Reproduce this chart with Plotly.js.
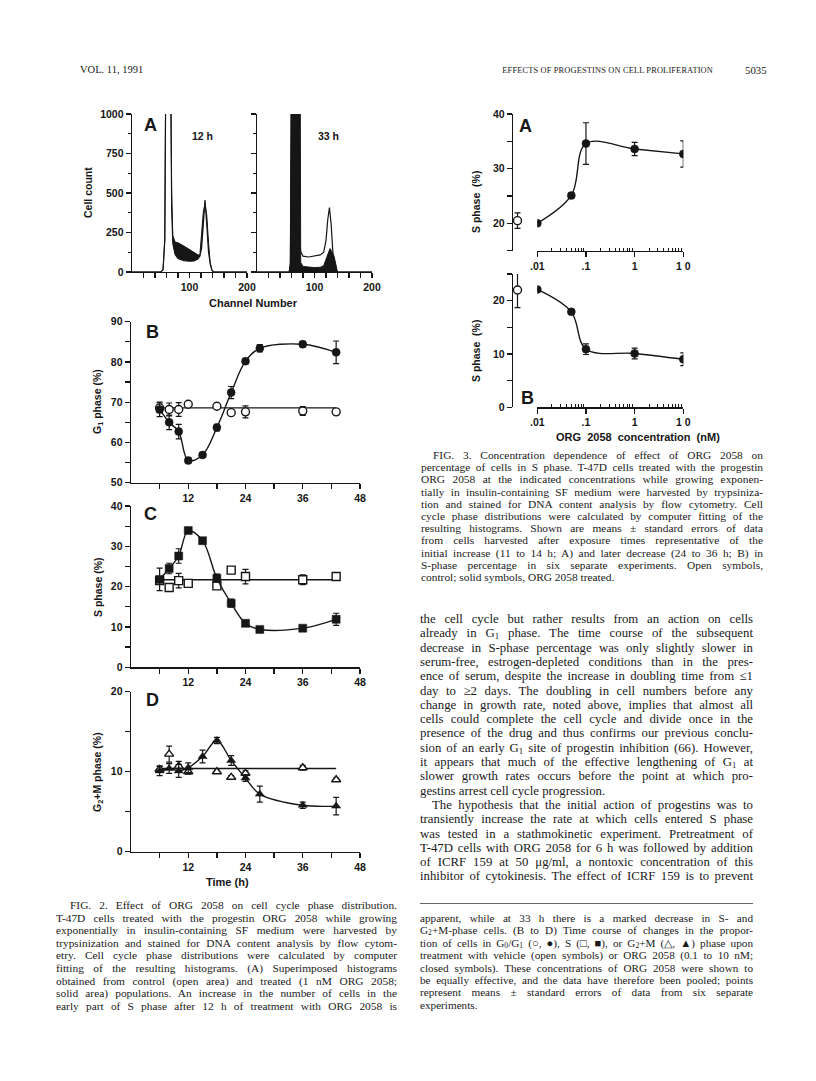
<!DOCTYPE html>
<html><head><meta charset="utf-8">
<script src="https://cdn.plot.ly/plotly-3.0.1.min.js"></script>
<style>
body{margin:0;background:#fff;}
#page{position:relative;width:816px;height:1081px;overflow:hidden;background:#fff;}
#plot{position:absolute;left:0;top:0;width:816px;height:1081px;}
.t{position:absolute;white-space:nowrap;font-family:"Liberation Serif","Times New Roman",serif;color:#1a1a1a;line-height:1;}
.t sub{font-size:68%;vertical-align:-0.18em;line-height:0;}
</style></head>
<body><div id="page"><div id="plot"></div></div>
<script>
// ---------------- DATA ----------------
// Fig 2A histograms (channel, cell count)
const chan12Ctrl = [0,50,54,57,59,67,69,71,75,80,90,100,108,114,118,121,124,127,130,133,136,139,142,200];
const cnt12Ctrl  = [0,0,15,200,1400,1400,400,180,110,85,72,68,70,80,100,150,300,455,300,130,50,10,0,0];
const chan12Trt  = [0,50,54,57,59,67,69,71,75,80,90,100,108,114,118,121,124,127,130,133,136,139,142,200];
const cnt12Trt   = [0,0,15,200,1400,1400,500,230,190,185,165,140,125,110,105,220,380,430,360,190,60,15,0,0];
const chan33Ctrl = [0,56,58,60,70,73,76,80,90,100,110,116,120,123,126,129,132,135,138,200];
const cnt33Ctrl  = [0,0,40,1400,1400,200,130,100,95,100,108,125,200,330,408,300,120,30,0,0];
const chan33Trt  = [0,56,58,60,75,76,80,90,100,110,116,120,124,127,130,134,137,140,200];
const cnt33Trt   = [0,0,60,1400,1400,60,35,30,28,30,40,80,120,148,130,100,50,0,0];

// Fig 2B-D time courses
const timesTrt = [6,8,10,12,15,18,21,24,27,36,43];
const timesCtl = [6,8,10,12,18,21,24,36,43];
const g1Trt    = [68.2,65.0,62.7,55.5,56.9,63.7,72.4,80.2,83.4,84.4,82.4];
const g1TrtErr = [1.8,1.8,1.8,0.6,0.5,0.8,1.5,0.6,0.9,0.7,2.8];
const g1Ctl    = [68.6,68.2,68.2,69.5,69.0,67.4,67.6,67.8,67.6];
const g1CtlErr = [1.2,1.6,1.7,0.4,0.4,0.4,1.5,1.1,0.4];
const g1CtlLevel = 68.6;
const sTrt     = [21.8,24.5,27.6,33.9,31.4,22.1,15.9,10.9,9.4,9.7,11.9];
const sTrtErr  = [2.8,1.3,1.8,0.5,0.6,1.0,1.0,0.5,0.4,0.4,1.5];
const sCtl     = [21.5,19.8,21.5,20.8,20.2,24.1,22.5,21.7,22.5];
const sCtlErr  = [0.5,0.4,1.8,0.4,0.4,0.6,1.8,1.2,0.4];
const sCtlLevel = 21.7;
const g2mTrt    = [10.1,10.4,10.1,10.5,11.9,13.9,11.4,9.2,7.2,5.8,5.7];
const g2mTrtErr = [0.6,0.6,0.8,0.6,0.8,0.4,0.6,0.4,1.0,0.4,1.1];
const g2mCtl    = [10.3,12.2,10.7,10.0,10.0,9.3,9.8,10.5,9.0];
const g2mCtlErr = [0.4,1.0,0.6,0.3,0.2,0.2,0.3,0.3,0.2];
const g2mCtlLevel = 10.4;

// Fig 3 concentration dependence (nM)
const conc     = [0.01,0.05,0.1,1,10];
const sA       = [20.0,25.1,34.6,33.6,32.7];
const sAErr    = [0.3,0.5,3.8,1.2,2.4];
const sACtl    = 20.5, sACtlErr = 1.4;
const sB       = [22.1,17.9,10.9,10.1,9.0];
const sBErr    = [0.3,0.4,1.0,1.0,1.2];
const sBCtl    = 22.0, sBCtlErr = 3.3;

// Tick labels
const histXTicks = [20,40,60,80,100,120,140,160,180,200];
const histXText  = ['','','','','100','','','','','200'];
const timeTicks  = [6,12,18,24,30,36,42,48];
const timeText   = ['','12','','24','','36','','48'];
const concTicks  = [0.01,0.1,1,10];
const concText   = ['.01','.1','1','1 0'];

// ---------------- LAYOUT HELPERS ----------------
const W=816,H=1081;
const px=x=>x/W, py=y=>1-y/H;
const xdom=(a,b)=>[px(a),px(b)];
const ydom=(top,bot)=>[py(bot),py(top)];
const INK='#161616';
const tickFont={family:'Liberation Sans, Arial, sans-serif',size:10.5,color:INK,weight:'bold'};
function ax(extra){return Object.assign({showline:true,linecolor:INK,linewidth:1.4,ticks:'outside',
  tickcolor:INK,tickwidth:1.3,ticklen:5,showgrid:false,zeroline:false,tickfont:tickFont,fixedrange:true,
  tickmode:'array'},extra);}
function yt(vals,labelEvery){return {tickvals:vals,ticktext:vals.map(v=>(v%labelEvery===0)?String(v):'')};}
const minorLog=[2,3,4,5,6,7,8,9].flatMap(m=>[m*0.01,m*0.1,m*1]);

const traces=[];
function errBar(arr){return {type:'data',array:arr,color:INK,thickness:1.2,width:3};}
function ctrlLine(xa,ya,times,level){
  const t0=Math.min(...times),t1=Math.max(...times);
  traces.push({x:[t0,t1],y:[level,level],mode:'lines',line:{color:INK,width:1.4},xaxis:xa,yaxis:ya,hoverinfo:'skip'});
}
function pts(xa,ya,x,y,err,sym,filled){
  traces.push({x:x,y:y,mode:'markers',xaxis:xa,yaxis:ya,error_y:errBar(err),
    marker:{symbol:sym,size:8,color:filled?INK:'#fff',line:{color:INK,width:filled?0.5:1.4}}});
}
function fit(xa,ya,x,y){
  traces.push({x:x,y:y,mode:'lines',line:{color:INK,width:1.4,shape:'spline',smoothing:1},xaxis:xa,yaxis:ya,hoverinfo:'skip'});
}

// Histograms
traces.push({x:chan12Ctrl,y:cnt12Ctrl,mode:'lines',line:{color:INK,width:1.2},xaxis:'x',yaxis:'y'});
traces.push({x:chan12Trt,y:cnt12Trt,mode:'lines',line:{color:INK,width:1},fill:'tonexty',fillcolor:INK,xaxis:'x',yaxis:'y'});
traces.push({x:chan33Trt,y:cnt33Trt,mode:'lines',line:{color:INK,width:1},fill:'tozeroy',fillcolor:INK,xaxis:'x2',yaxis:'y2'});
traces.push({x:chan33Ctrl,y:cnt33Ctrl,mode:'lines',line:{color:INK,width:1.2},xaxis:'x2',yaxis:'y2'});

// B
ctrlLine('x3','y3',timesCtl,g1CtlLevel);
pts('x3','y3',timesCtl,g1Ctl,g1CtlErr,'circle',false);
fit('x3','y3',timesTrt,g1Trt);
pts('x3','y3',timesTrt,g1Trt,g1TrtErr,'circle',true);
// C
ctrlLine('x4','y4',timesCtl,sCtlLevel);
pts('x4','y4',timesCtl,sCtl,sCtlErr,'square',false);
fit('x4','y4',timesTrt,sTrt);
pts('x4','y4',timesTrt,sTrt,sTrtErr,'square',true);
// D
ctrlLine('x5','y5',timesCtl,g2mCtlLevel);
pts('x5','y5',timesCtl,g2mCtl,g2mCtlErr,'triangle-up',false);
fit('x5','y5',timesTrt,g2mTrt);
pts('x5','y5',timesTrt,g2mTrt,g2mTrtErr,'triangle-up',true);
// Fig 3A
fit('x6','y6',conc,sA);
pts('x6','y6',conc,sA,sAErr,'circle',true);
pts('x7','y6',[0.5],[sACtl],[sACtlErr],'circle',false);
// Fig 3B
fit('x8','y8',conc,sB);
pts('x8','y8',conc,sB,sBErr,'circle',true);
pts('x9','y8',[0.5],[sBCtl],[sBCtlErr],'circle',false);

const histY={range:[0,1000],tickvals:[0,250,500,750,1000],ticktext:['0','250','500','750','1000'],
  minor:{tickmode:'array',tickvals:[125,375,625,875],ticks:'outside',ticklen:3,tickcolor:INK,tickwidth:1.2}};
const timeX={range:[0,48],tickvals:timeTicks,ticktext:timeText};
const concX={type:'log',range:[-2,1],tickvals:concTicks,ticktext:concText,
  minor:{tickmode:'array',tickvals:minorLog,ticks:'inside',ticklen:3,tickcolor:INK,tickwidth:1}};

const layout={width:W,height:H,margin:{l:0,r:0,t:0,b:0},paper_bgcolor:'rgba(0,0,0,0)',plot_bgcolor:'rgba(0,0,0,0)',
  showlegend:false,
  xaxis: ax(Object.assign({domain:xdom(132,247),anchor:'y',range:[0,200],tickvals:histXTicks,ticktext:histXText})),
  yaxis: ax(Object.assign({domain:ydom(114,272),anchor:'x'},histY)),
  xaxis2:ax({domain:xdom(257,372),anchor:'y2',range:[0,200],tickvals:histXTicks,ticktext:histXText}),
  yaxis2:ax(Object.assign({domain:ydom(114,272),anchor:'x2'},histY,{showticklabels:false})),
  xaxis3:ax(Object.assign({domain:xdom(131,360),anchor:'y3'},timeX)),
  yaxis3:ax(Object.assign({domain:ydom(321.7,482.7),anchor:'x3',range:[50,90]},yt([50,55,60,65,70,75,80,85,90],10))),
  xaxis4:ax(Object.assign({domain:xdom(131,360),anchor:'y4'},timeX)),
  yaxis4:ax(Object.assign({domain:ydom(506,667.3),anchor:'x4',range:[0,40]},yt([0,5,10,15,20,25,30,35,40],10))),
  xaxis5:ax(Object.assign({domain:xdom(131,360),anchor:'y5'},timeX)),
  yaxis5:ax(Object.assign({domain:ydom(691.7,851.7),anchor:'x5',range:[0,20]},yt([0,5,10,15,20],10))),
  xaxis6:ax(Object.assign({domain:xdom(537.3,683.3),anchor:'y6'},concX)),
  yaxis6:ax(Object.assign({domain:ydom(114,250.7),anchor:'free',position:px(511.7),range:[15,40]},yt([15,20,25,30,35,40],10))),
  xaxis7:{domain:xdom(505,530),anchor:'y6',range:[0,1],visible:false,fixedrange:true},
  xaxis8:ax(Object.assign({domain:xdom(537.3,683.3),anchor:'y8'},concX)),
  yaxis8:ax(Object.assign({domain:ydom(274,407.3),anchor:'free',position:px(511.7),range:[0,25]},yt([0,5,10,15,20,25],10))),
  xaxis9:{domain:xdom(505,530),anchor:'y8',range:[0,1],visible:false,fixedrange:true},
  annotations:[]
};
const AF='Liberation Sans, Arial, sans-serif';
function ann(text,x,y,size,angle){layout.annotations.push({text:'<b>'+text+'</b>',xref:'paper',yref:'paper',x:px(x),y:py(y),
  xanchor:'center',yanchor:'middle',showarrow:false,textangle:angle||0,font:{family:AF,size:size,color:INK}});}
ann('A',150,125,18); ann('12 h',202,136,10.5); ann('33 h',328,136,10.5);
ann('Cell count',88,193,10.5,-90); ann('Channel Number',253,303,11);
ann('B',152,332,18); ann('G<sub>1</sub> phase (%)',98,402,10.5,-90);
ann('C',150,514,18); ann('S phase (%)',98,587,10.5,-90);
ann('D',152,700,18); ann('G<sub>2</sub>+M phase (%)',98,772,10.5,-90);
ann('Time (h)',227,882,11);
ann('A',525,126,18); ann('S phase  (%)',476,202,10.5,-90);
ann('B',527,398,18); ann('S phase  (%)',476,351,10.5,-90);
ann('ORG  2058  concentration  (nM)',638,437,11);

Plotly.newPlot('plot',traces,layout,{staticPlot:true,displayModeBar:false});

// ---------------- TEXT ----------------
const headerLeft = 'VOL. 11, 1991';
const headerTitle = 'EFFECTS OF PROGESTINS ON CELL PROLIFERATION';
const headerPage = '5035';
const fig3Caption = [
 'FIG. 3. Concentration dependence of effect of ORG 2058 on',
 'percentage of cells in S phase. T-47D cells treated with the progestin',
 'ORG 2058 at the indicated concentrations while growing exponen-',
 'tially in insulin-containing SF medium were harvested by trypsiniza-',
 'tion and stained for DNA content analysis by flow cytometry. Cell',
 'cycle phase distributions were calculated by computer fitting of the',
 'resulting histograms. Shown are means ± standard errors of data',
 'from cells harvested after exposure times representative of the',
 'initial increase (11 to 14 h; A) and later decrease (24 to 36 h; B) in',
 'S-phase percentage in six separate experiments. Open symbols,',
 'control; solid symbols, ORG 2058 treated.'
];
const bodyText = [
 'the cell cycle but rather results from an action on cells',
 'already in G<sub>1</sub> phase. The time course of the subsequent',
 'decrease in S-phase percentage was only slightly slower in',
 'serum-free, estrogen-depleted conditions than in the pres-',
 'ence of serum, despite the increase in doubling time from ≤1',
 'day to ≥2 days. The doubling in cell numbers before any',
 'change in growth rate, noted above, implies that almost all',
 'cells could complete the cell cycle and divide once in the',
 'presence of the drug and thus confirms our previous conclu-',
 'sion of an early G<sub>1</sub> site of progestin inhibition (66). However,',
 'it appears that much of the effective lengthening of G<sub>1</sub> at',
 'slower growth rates occurs before the point at which pro-',
 'gestins arrest cell cycle progression.',
 'The hypothesis that the initial action of progestins was to',
 'transiently increase the rate at which cells entered S phase',
 'was tested in a stathmokinetic experiment. Pretreatment of',
 'T-47D cells with ORG 2058 for 6 h was followed by addition',
 'of ICRF 159 at 50 μg/ml, a nontoxic concentration of this',
 'inhibitor of cytokinesis. The effect of ICRF 159 is to prevent'
];
const fig2CaptionLeft = [
 'FIG. 2. Effect of ORG 2058 on cell cycle phase distribution.',
 'T-47D cells treated with the progestin ORG 2058 while growing',
 'exponentially in insulin-containing SF medium were harvested by',
 'trypsinization and stained for DNA content analysis by flow cytom-',
 'etry. Cell cycle phase distributions were calculated by computer',
 'fitting of the resulting histograms. (A) Superimposed histograms',
 'obtained from control (open area) and treated (1 nM ORG 2058;',
 'solid area) populations. An increase in the number of cells in the',
 'early part of S phase after 12 h of treatment with ORG 2058 is'
];
const fig2CaptionRight = [
 'apparent, while at 33 h there is a marked decrease in S- and',
 'G<sub>2</sub>+M-phase cells. (B to D) Time course of changes in the propor-',
 'tion of cells in G<sub>0</sub>/G<sub>1</sub> (○, ●), S (□, ■), or G<sub>2</sub>+M (△, ▲) phase upon',
 'treatment with vehicle (open symbols) or ORG 2058 (0.1 to 10 nM;',
 'closed symbols). These concentrations of ORG 2058 were shown to',
 'be equally effective, and the data have therefore been pooled; points',
 'represent means ± standard errors of data from six separate',
 'experiments.'
];

const page=document.getElementById('page');
const just=[];
function addLines(lines,o){
  lines.forEach((html,i)=>{
    const el=document.createElement('div');el.className='t';el.innerHTML=html;
    const ind=(o.indents||[]).includes(i)?o.indent:0;
    el.style.left=(o.left+ind)+'px';el.style.fontSize=o.size+'px';
    el.style.top=(o.y0+i*o.dy-0.62*o.size)+'px';
    page.appendChild(el);
    if(!(o.noJust||[]).includes(i)) just.push([el,o.width-ind]);
  });
}
function single(text,left,yc,size,extra){
  const el=document.createElement('div');el.className='t';el.innerHTML=text;
  el.style.fontSize=size+'px';el.style.top=(yc-0.62*size)+'px';
  if(left!==null) el.style.left=left+'px';
  Object.assign(el.style,extra||{});page.appendChild(el);return el;
}
single(headerLeft,80,72,10.5);
single(headerTitle,null,72,8.4,{right:(816-713)+'px',letterSpacing:'0.15px'});
single(headerPage,745,72,10.8);
addLines(fig3Caption,{left:421,width:342,y0:457,dy:12.2,size:11.4,indent:12,indents:[0],noJust:[10]});
addLines(bodyText,{left:420,width:333,y0:621,dy:14.3,size:12.8,indent:12,indents:[13],noJust:[12]});
addLines(fig2CaptionLeft,{left:56,width:341,y0:907,dy:12.6,size:11.4,indent:14,indents:[0],noJust:[]});
addLines(fig2CaptionRight,{left:420,width:333,y0:920,dy:12.4,size:11.2,indent:0,indents:[],noJust:[7]});
const sep=document.createElement('div');
Object.assign(sep.style,{position:'absolute',left:'420px',top:'903px',width:'333px',height:'1px',background:'#666'});
page.appendChild(sep);
function doJustify(){just.forEach(([el,w])=>{el.style.wordSpacing='0px';const nat=el.getBoundingClientRect().width;
  const n=(el.textContent.match(/ /g)||[]).length;if(n)el.style.wordSpacing=((w-nat)/n)+'px';});}
doJustify();
if(document.fonts&&document.fonts.ready)document.fonts.ready.then(doJustify);
</script>
</body></html>
